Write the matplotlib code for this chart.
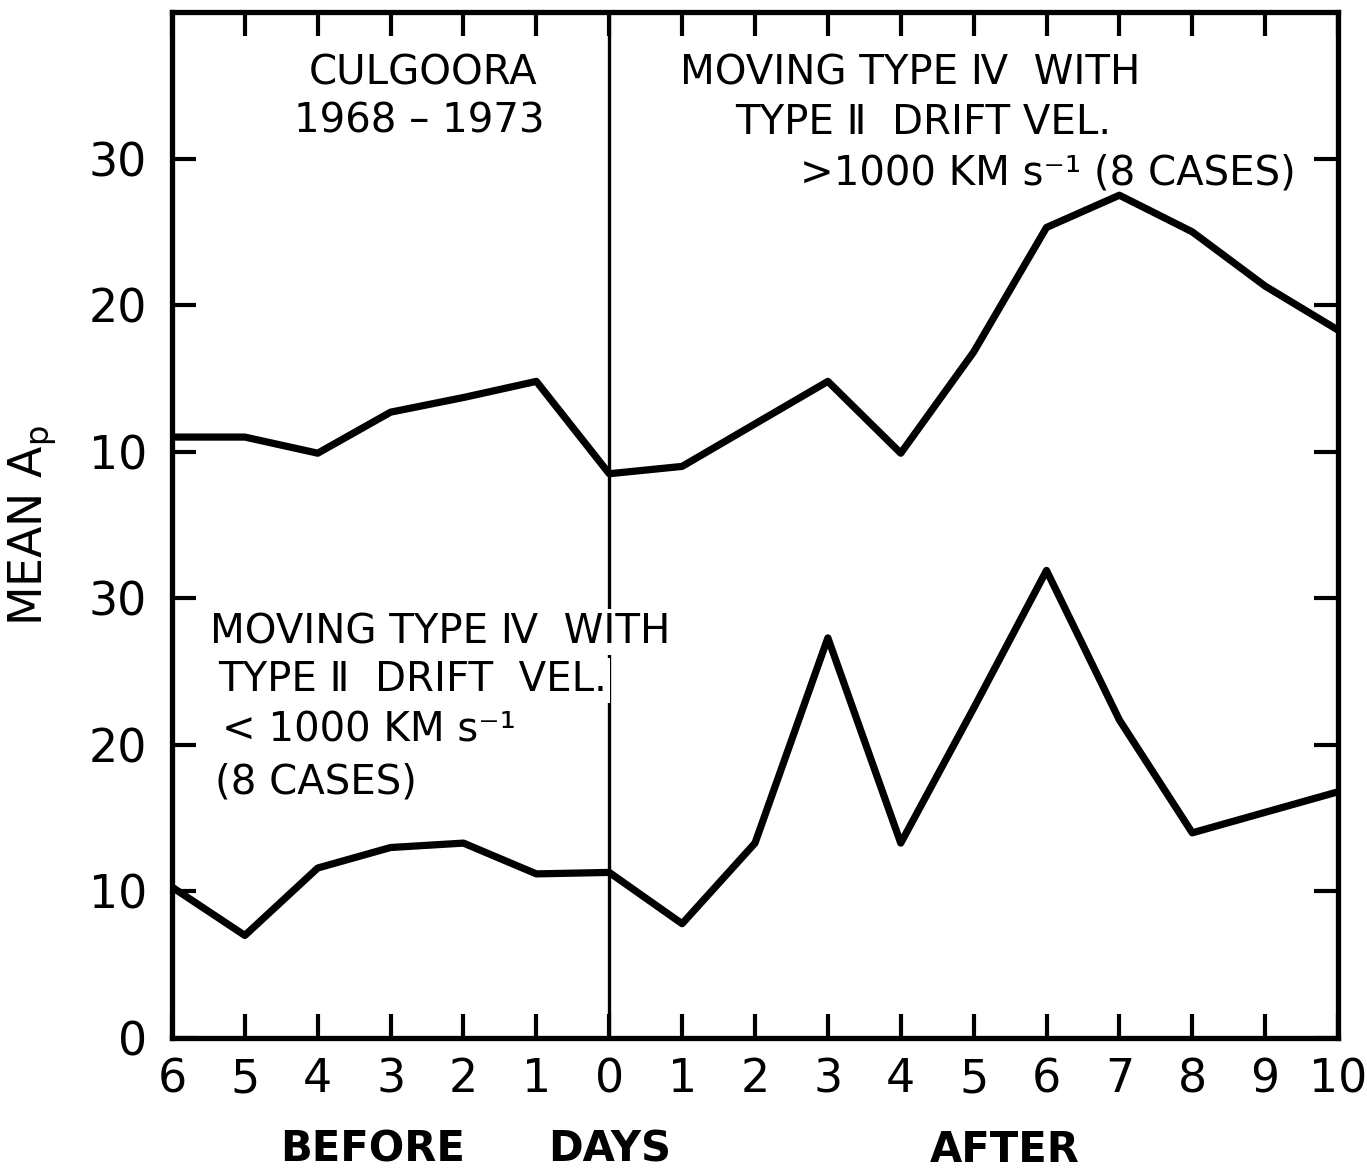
import matplotlib
matplotlib.use("Agg")
import matplotlib.pyplot as plt

# days relative to the event (negative = before)
days = list(range(-6, 11))
day_labels = [str(abs(d)) for d in days]

# mean Ap, drift velocity > 1000 km/s (drawn in the upper panel)
ap_fast = [11.0, 11.0, 9.9, 12.7, 13.7, 14.8, 8.5, 9.0, 11.9, 14.8, 9.9, 16.8, 25.3, 27.5, 25.0, 21.3, 18.3]
# mean Ap, drift velocity < 1000 km/s (lower panel)
ap_slow = [10.3, 7.0, 11.6, 13.0, 13.3, 11.2, 11.3, 7.8, 13.3, 27.3, 13.3, 22.5, 31.9, 21.7, 14.0, 15.4, 16.8]

offset = 30  # upper curve is shifted up on the shared axis
ytick_pos = [0, 10, 20, 30, 40, 50, 60]
ytick_lab = ["0", "10", "20", "30", "10", "20", "30"]

plt.rcParams['font.family'] = ['DejaVu Sans']
plt.rcParams['mathtext.fontset'] = 'dejavusans'

fig = plt.figure(figsize=(13.67, 11.76), dpi=100)
ax = fig.add_axes([0.1258, 0.1173, 0.853, 0.8725])

ax.plot(days, [v + offset for v in ap_fast], color="black", lw=5.2, zorder=3)
ax.plot(days, ap_slow, color="black", lw=5.2, zorder=3)
ax.axvline(0, color="black", lw=2.4, zorder=1)

ax.set_xlim(-6, 10)
ax.set_ylim(0, 70)
ax.set_xticks(days)
ax.set_xticklabels(day_labels)
ax.set_yticks(ytick_pos)
ax.set_yticklabels(ytick_lab)

ax.tick_params(axis="both", direction="in", length=17, width=3, top=True, right=True,
               labelsize=33)
ax.tick_params(axis="x", pad=14)
ax.tick_params(axis="y", pad=18)
for s in ax.spines.values():
    s.set_linewidth(3.8)

ax.set_ylabel(r"MEAN A$_\mathrm{p}$", fontsize=33)
ax.yaxis.set_label_coords(-0.097, 0.5)

tkw = dict(fontsize=29, color="black", va="center", zorder=4)
ax.text(-2.55, 65.8, "CULGOORA", ha="center", **tkw)
ax.text(-2.6, 62.5, "1968 – 1973", ha="center", **tkw)

ax.text(0.97, 65.8, "MOVING TYPE Ⅳ  WITH", ha="left", **tkw)
ax.text(1.73, 62.4, "TYPE Ⅱ  DRIFT VEL.", ha="left", **tkw)
ax.text(2.62, 59.0, ">1000 KM s⁻¹ (8 CASES)", ha="left", **tkw)

box = dict(facecolor="white", edgecolor="none", pad=2)
ax.text(-5.48, 27.7, "MOVING TYPE Ⅳ  WITH", ha="left", bbox=box, **tkw)
ax.text(-5.37, 24.4, "TYPE Ⅱ  DRIFT  VEL.", ha="left", bbox=box, **tkw)
ax.text(-5.31, 21.0, "< 1000 KM s⁻¹", ha="left", **tkw)
ax.text(-5.41, 17.45, "(8 CASES)", ha="left", **tkw)

xt = ax.get_xaxis_transform()
bkw = dict(fontsize=30, fontweight="bold", ha="center", va="center", transform=xt)
ax.text(-3.25, -0.109, "BEFORE", **bkw)
ax.text(0.0, -0.109, "DAYS", **bkw)
ax.text(5.43, -0.109, "AFTER", **bkw)

fig.savefig("out.png", dpi=100)
